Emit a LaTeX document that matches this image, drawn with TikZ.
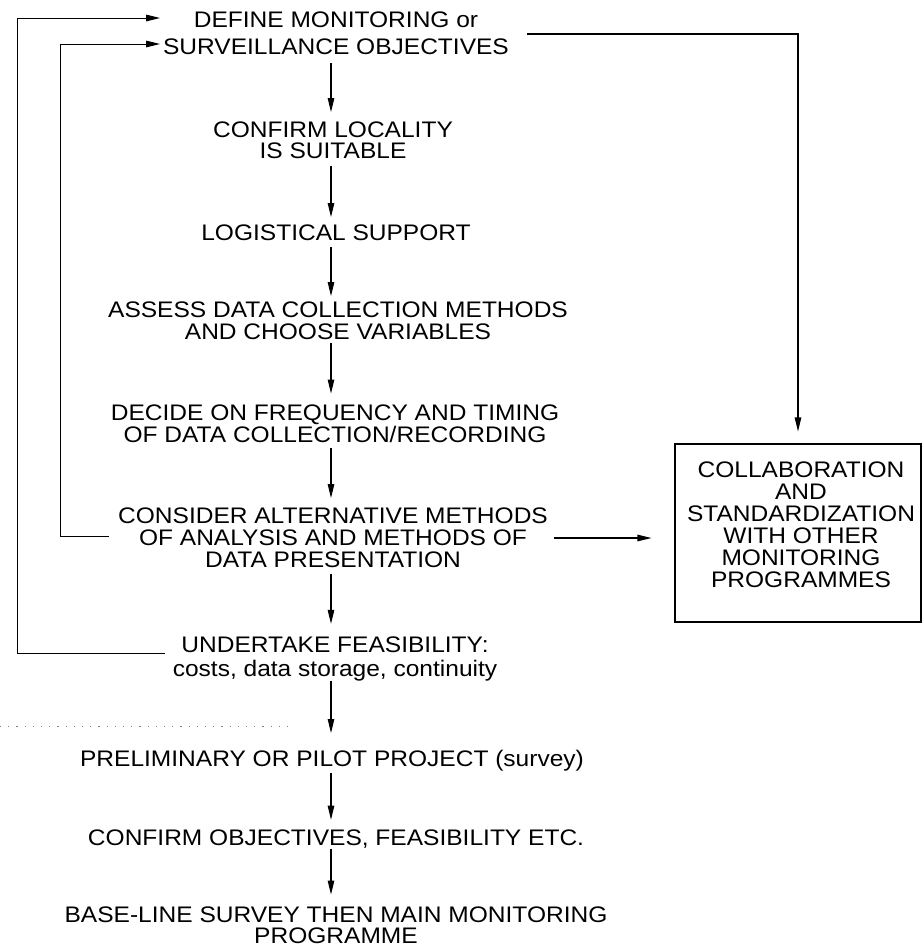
\documentclass[tikz,border=0pt]{standalone}
\usepackage{fontspec}
\setmainfont{Liberation Sans}[FakeStretch=1.09]
\usetikzlibrary{arrows.meta,calc}
\begin{document}
\begin{tikzpicture}[x=1pt,y=-1pt,
  stage/.style={align=center, inner sep=0pt, outer sep=0pt},
  lead/.style={font=\fontsize{22.5}{#1}\selectfont},
  flow/.style={line width=1.1pt, -{Triangle[length=14pt,width=6.5pt]}},
  loopline/.style={line width=1.0pt, -{Triangle[length=14pt,width=6.5pt]}},
  sidebox/.style={draw, line width=1.1pt, inner sep=0pt,
    minimum width=246pt, minimum height=178pt},
]
\useasboundingbox (0,0) rectangle (923,951);

% main column of stages
\node[stage, lead=27] (def) at (336,33) {DEFINE MONITORING or\\SURVEILLANCE OBJECTIVES};
\node[stage, lead=21] (conf) at (333,140.5) {CONFIRM LOCALITY\\IS SUITABLE};
\node[stage, lead=21] (log) at (336,233) {LOGISTICAL SUPPORT};
\node[stage, lead=22] (assess) at (338,321) {ASSESS DATA COLLECTION METHODS\\AND CHOOSE VARIABLES};
\node[stage, lead=22] (decide) at (335,423.5) {DECIDE ON FREQUENCY AND TIMING\\OF DATA COLLECTION/RECORDING};
\node[stage, lead=22] (consider) at (333,538) {CONSIDER ALTERNATIVE METHODS\\OF ANALYSIS AND METHODS OF\\DATA PRESENTATION};
\node[stage, lead=24] (undertake) at (335,659) {UNDERTAKE FEASIBILITY:\\costs, data storage, continuity};
\node[stage, lead=21] (prelim) at (332,760.5) {PRELIMINARY OR PILOT PROJECT (survey)};
\node[stage, lead=21] (confobj) at (336,839) {CONFIRM OBJECTIVES, FEASIBILITY ETC.};
\node[stage, lead=21] (base) at (336,925) {BASE-LINE SURVEY THEN MAIN MONITORING\\PROGRAMME};

% side box and its text
\node[sidebox] (box) at (798,533) {};
\node[stage, lead=22] (boxtext) at ($(box.center)+(3,-8)$)
  {COLLABORATION\\AND\\STANDARDIZATION\\WITH OTHER\\MONITORING\\PROGRAMMES};

% downward flow
\coordinate (col) at (331,0);
\draw[flow] ($(def.south -| col)+(0,9)$) -- ($(conf.north -| col)+(0,-10)$);
\draw[flow] ($(conf.south -| col)+(0,7)$) -- ($(log.north -| col)+(0,-8)$);
\draw[flow] ($(log.south -| col)+(0,6)$) -- ($(assess.north -| col)+(0,-6)$);
\draw[flow] ($(assess.south -| col)+(0,3)$) -- ($(decide.north -| col)+(0,-11)$);
\draw[flow] ($(decide.south -| col)+(0,6)$) -- ($(consider.north -| col)+(0,-10)$);
\draw[flow] ($(consider.south -| col)+(0,6)$) -- ($(undertake.north -| col)+(0,-13)$);
\draw[flow] ($(undertake.south -| col)+(0,0)$) -- ($(prelim.north -| col)+(0,-17)$);
\draw[flow] ($(prelim.south -| col)+(0,2)$) -- ($(confobj.north -| col)+(0,-10)$);
\draw[flow] ($(confobj.south -| col)+(0,1)$) -- ($(base.north -| col)+(0,-12)$);

% feedback loops on the left
\draw[loopline] ($(undertake.west)+(-8,-6)$) -| ($(def.west)+(-146,-15)$) -- ($(def.west)+(-3,-15)$);
\draw[loopline] ($(consider.west)+(-9,-2)$) -| ($(def.west)+(-103,11)$) -- ($(def.west)+(-3,11)$);

% links to the side box
\draw[flow] ($(def.east)+(18,1)$) -| ($(box.north)+(0,-12)$);
\draw[flow] ($(consider.east)+(6,0)$) -- ($(box.west |- consider.east)+(-23,0)$);

% faint dotted rule
\draw[gray, line width=0.8pt, dash pattern=on 1.2pt off 7pt] (0,726) -- (294,726);
\end{tikzpicture}
\end{document}
